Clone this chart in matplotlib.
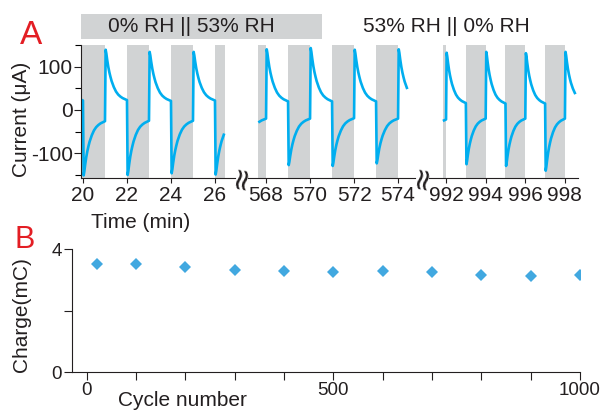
import matplotlib.pyplot as plt
import numpy as np
from matplotlib.patches import Rectangle

plt.rcParams['font.family'] = ['Liberation Sans', 'DejaVu Sans']
plt.rcParams['axes.unicode_minus'] = False

# one switching half-cycle: relative time and
# fraction of the way from the plateau value back up to the peak
rel_time = [0.0, 0.03, 0.06, 0.1, 0.15, 0.2, 0.25, 0.3, 0.4, 0.5, 0.6, 0.7, 0.8, 0.9, 1.0]
decay_frac = [None, 1.0, 0.93, 0.8, 0.66, 0.55, 0.46, 0.38, 0.26, 0.17, 0.11, 0.07, 0.04, 0.02, 0.0]

# switching times (min), peak currents and plateau currents (uA) per segment
seg1_t0 = [19, 20, 21, 22, 23, 24, 25, 26]
seg1_peak = [135, -152, 140, -151, 135, -147, 135, -150]
seg1_end = [22, -26, 23, -25, 21, -25, 22, -25]
seg1_window = (19.85, 26.45)

seg2_t0 = [567, 568, 569, 570, 571, 572, 573, 574]
seg2_peak = [-125, 141, -128, 144, -130, 140, -124, 141]
seg2_end = [-20, 20, -20, 20, -19, 20, -20, 20]
seg2_window = (567.64, 574.42)

seg3_t0 = [991, 992, 993, 994, 995, 996, 997, 998]
seg3_peak = [-130, 133, -126, 135, -130, 132, -141, 135]
seg3_end = [-22, 16, -20, 15, -20, 15, -20, 20]
seg3_window = (991.85, 998.58)

seg1_ticks = [20, 22, 24, 26]
seg2_ticks = [568, 570, 572, 574]
seg3_ticks = [992, 994, 996, 998]

# panel B
cycles = [20, 100, 200, 300, 400, 500, 600, 700, 800, 900, 1000]
charge = [3.52, 3.50, 3.42, 3.33, 3.30, 3.25, 3.27, 3.26, 3.17, 3.13, 3.15]

W, H = 609, 411
line_c = '#00aeef'
gray = '#d1d3d4'
txt_c = '#231f20'
red = '#e31e24'

fig = plt.figure(figsize=(W / 100, H / 100), dpi=100)


def fx(px):
    return px / W


def fy(py):
    return 1 - py / H


def build(t0s, peaks, ends, window):
    t, v = [], []
    prev = ends[-1]
    for s, p, e in zip(t0s, peaks, ends):
        for r, f in zip(rel_time, decay_frac):
            t.append(s + r)
            v.append(prev if f is None else e + f * (p - e))
        prev = e
    t, v = np.array(t), np.array(v)
    m = (t >= window[0]) & (t <= window[1])
    return t[m], v[m]


segments = [
    (seg1_t0, seg1_peak, seg1_end, seg1_window, seg1_ticks, (81, 235), (19.91, 26.91)),
    (seg2_t0, seg2_peak, seg2_end, seg2_window, seg2_ticks, (248, 415), (567.18, 574.77)),
    (seg3_t0, seg3_peak, seg3_end, seg3_window, seg3_ticks, (429, 578), (991.14, 998.66)),
]

a_top, a_bot = 45, 178
for i, (t0s, peaks, ends, win, ticks, (x0, x1), xl) in enumerate(segments):
    ax = fig.add_axes([fx(x0), fy(a_bot), (x1 - x0) / W, (a_bot - a_top) / H])
    for s, p in zip(t0s, peaks):
        if p < 0:
            lo, hi = max(s, win[0]), min(s + 1, win[1])
            if i == 0 and s == 20:
                lo = xl[0]
            if hi > lo:
                ax.axvspan(lo, hi, color=gray, lw=0, zorder=0)
    t, v = build(t0s, peaks, ends, win)
    ax.plot(t, v, color=line_c, lw=1.9, solid_joinstyle='round', zorder=2)
    ax.set_xlim(*xl)
    ax.set_ylim(-158, 151)
    ax.set_xticks(ticks)
    ax.tick_params(axis='x', direction='out', length=3.5, width=0.8, labelsize=15,
                   colors=txt_c, pad=2)
    for sp in ['top', 'right']:
        ax.spines[sp].set_visible(False)
    ax.spines['bottom'].set_linewidth(0.8)
    ax.spines['bottom'].set_color(txt_c)
    ax.spines['left'].set_linewidth(0.8)
    ax.spines['left'].set_color(txt_c)
    ax.patch.set_alpha(0)
    if i == 0:
        ax.set_yticks([-100, 0, 100])
        ax.set_yticks([-150, -50, 50, 150], minor=True)
        ax.tick_params(axis='y', which='major', direction='out', length=5, width=0.8,
                       labelsize=15, colors=txt_c, pad=1)
        ax.tick_params(axis='y', which='minor', direction='out', length=4, width=0.8)
    else:
        ax.spines['left'].set_visible(False)
        ax.set_yticks([])

# axis break marks
for bx in [242, 423]:
    fig.text(fx(bx), fy(177), '\u2248', rotation=80, fontsize=22, ha='center', va='center',
             color=txt_c, family='DejaVu Sans')

# header
fig.patches.append(Rectangle((fx(81), fy(39)), (322 - 81) / W, 25 / H,
                             transform=fig.transFigure, color=gray, lw=0, zorder=0))
fig.text(fx(191), fy(27), '0% RH || 53% RH', fontsize=15, ha='center', va='center', color=txt_c)
fig.text(fx(446), fy(27), '53% RH || 0% RH', fontsize=15, ha='center', va='center', color=txt_c)

fig.text(fx(22), fy(119), 'Current (\u03bcA)', rotation=90, fontsize=15, ha='center', va='center',
         color=txt_c)
fig.text(fx(141), fy(222), 'Time (min)', fontsize=15, ha='center', va='center', color=txt_c)
fig.text(fx(31), fy(36), 'A', fontsize=24, ha='center', va='center', color=red)

# panel B
axb = fig.add_axes([fx(72), fy(372), (580 - 72) / W, (372 - 249) / H])
axb.plot(cycles, charge, 'D', color='#41a8e0', markersize=6.5, markeredgewidth=0)
axb.set_xlim(-30, 1000)
axb.set_ylim(0, 4)
axb.set_yticks([0, 2, 4])
axb.set_yticklabels(['0', '', '4'])
axb.set_xticks(range(0, 1001, 100))
axb.set_xticklabels(['0' if c == 0 else str(c) if c in (500, 1000) else '' for c in range(0, 1001, 100)])
axb.tick_params(direction='out', length=5.5, width=0.8, labelsize=13.5, colors=txt_c, pad=2)
for sp in ['top', 'right']:
    axb.spines[sp].set_visible(False)
for sp in ['left', 'bottom']:
    axb.spines[sp].set_linewidth(0.8)
    axb.spines[sp].set_color(txt_c)

fig.text(fx(22), fy(315), 'Charge(mC)', rotation=90, fontsize=15, ha='center', va='center',
         color=txt_c)
fig.text(fx(182), fy(400), 'Cycle number', fontsize=15, ha='center', va='center', color=txt_c)
fig.text(fx(25), fy(240), 'B', fontsize=22, ha='center', va='center', color=red)

fig.savefig('out.png', dpi=100)
